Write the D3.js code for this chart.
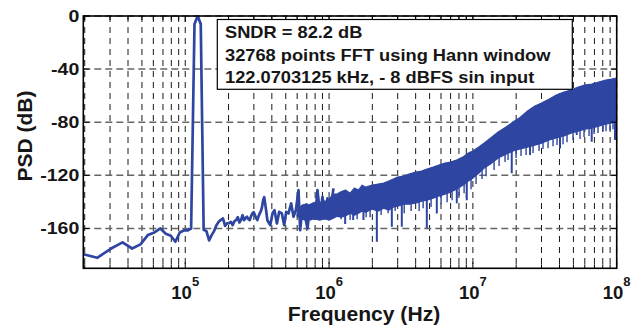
<!DOCTYPE html>
<html><head><meta charset="utf-8">
<script src="https://cdn.jsdelivr.net/npm/d3@7"></script>
<style>
body{margin:0;background:#fff}
svg{display:block}
text{font-family:"Liberation Sans",Arial,Helvetica,sans-serif;font-weight:bold;fill:#161616}
</style>
</head><body>
<svg id="c" width="642" height="326"></svg>
<script>
// ---- data ----
// trace points (kHz) of the low-frequency part, the tone and the start of the noise rise
const lineFreqKHz = [18.31,24.41,30.52,36.62,42.72,48.83,54.93,61.04,67.14,73.24,79.35,85.45,91.55,97.66,103.76,109.86,115.97,122.07,128.17,134.28,140.38,146.48,152.59,158.69,164.79,170.90,177.00,183.11,189.21,195.31,201.42,207.52,213.62,219.73,225.83,231.93,238.04,244.14,250.24,256.35,262.45,268.55,274.66,280.76,286.87,292.97,299.07,305.18,311.28,317.38,323.49,329.59,335.69,341.80,347.90,354.00,360.11,366.21,372.31,378.42,389.7,404.3,417.4,433.8,450.0,469.9,487.5,503.4,522.3,545.3,565.7,587.8,612.9,629.8,653.4,682.2,707.8,739.1,766.6,800.5,830.5,867.1,899.6,939.4,974.6,1017.6,1073.0];
const lineDb = [-178.6,-182.1,-175.1,-170.5,-175.1,-172.0,-165.0,-163.0,-160.0,-164.0,-165.5,-170.0,-163.0,-161.5,-161.5,-160.0,-6.0,0,-6.0,-161.0,-162.0,-169.0,-165.0,-162.0,-157.5,-155.0,-153.5,-152.5,-158.0,-156.2,-156.0,-155.0,-157.5,-154.5,-153.7,-151.5,-155.5,-153.7,-150.0,-153.7,-152.2,-151.2,-153.0,-153.7,-150.7,-148.7,-147.7,-150.0,-152.2,-153.7,-150.7,-148.7,-147.0,-144.0,-138.7,-136.4,-141.7,-147.7,-153.7,-155.2,-157.5,-148.7,-146.2,-156.2,-147.5,-148.7,-157.5,-147.5,-148.7,-141.1,-151.2,-146.2,-131.1,-161.3,-143.7,-151.2,-160.0,-142.4,-144.9,-151.2,-131.1,-150.0,-136.2,-151.2,-137.4,-147.5,-129.8];

// dense noise region: upper / lower edge of the solid part of the trace
const bandFreqHz = [600e3,650e3,690e3,730e3,770e3,810e3,860e3,910e3,960e3,1.0e6,1.07e6,1.14e6,1.2e6,1.3e6,1.4e6,1.5e6,1.6e6,1.7e6,1.8e6,2.0e6,2.2e6,2.4e6,2.6e6,2.8e6,3.0e6,3.3e6,3.6e6,4.0e6,4.4e6,4.8e6,5.3e6,5.8e6,6.4e6,7.0e6,7.7e6,8.5e6,9.3e6,10e6,11e6,12e6,13.5e6,15e6,17e6,19e6,21e6,24e6,27e6,30e6,34e6,38e6,43e6,48e6,54e6,60e6,67e6,75e6,84e6,92e6,100e6];
const bandUpperDb = [-146.2,-142.4,-141.7,-142.4,-140.9,-140.2,-140.9,-139.4,-139.4,-137.9,-134.1,-134.1,-132.6,-131.1,-133.4,-129.6,-131.1,-127.4,-128.9,-127.4,-126.6,-125.8,-124.3,-122.8,-121.3,-120.6,-119.1,-117.6,-116.8,-115.3,-113.8,-112.3,-110.8,-110.0,-108.5,-106.3,-103.2,-101.7,-98.7,-95.7,-91.2,-87.4,-83.6,-79.9,-76.9,-71.6,-67.8,-65.6,-62.5,-59.5,-57.3,-55.8,-53.5,-52.0,-51.2,-49.7,-48.2,-47.5,-46.7];
const bandLowerDb = [-150.7,-153.0,-153.7,-153.7,-153.0,-153.0,-153.7,-153.0,-153.0,-153.7,-152.2,-150.7,-151.5,-150.7,-148.5,-150.0,-148.5,-146.9,-147.7,-145.4,-146.9,-144.7,-146.2,-143.9,-143.2,-141.7,-141.7,-140.9,-139.4,-138.7,-137.2,-135.6,-134.1,-132.6,-130.4,-127.4,-124.3,-122.1,-118.3,-114.5,-110.8,-107.0,-104.0,-101.7,-100.2,-98.7,-97.2,-95.7,-93.4,-91.9,-90.4,-88.2,-86.7,-85.2,-84.4,-82.9,-81.4,-80.6,-79.1];

// deep downward spikes
const spikeFreqHz = [1.294e6,1.471e6,1.734e6,2.149e6,2.732e6,3.205e6,4.783e6,5.613e6,7.73e6,9.07e6,18.63e6,24.97e6,40.36e6,52.72e6,67.03e6,97.3e6];
const spikeDb = [-156.7,-153.7,-153.7,-170.1,-158.8,-158.8,-160.0,-148.7,-141.1,-138.7,-118.5,-104.7,-99.7,-89.7,-94.7,-93.4];
// small teeth along the lower edge
const teethFreqHz = [1.214e6,1.401e6,1.568e6,1.810e6,1.930e6,2.302e6,2.575e6,2.880e6,3.33e6,3.72e6,4.23e6,4.51e6,5.12e6,6.01e6,6.62e6,7.17e6,8.02e6,8.69e6,9.71e6,10.52e6,11.58e6,12.35e6,14.04e6,15.21e6,16.74e6,17.56e6,19.96e6,21.62e6,23.43e6,26.21e6,28.84e6,30.74e6,33.32e6,36.09e6,38.47e6,42.35e6,45.14e6,49.70e6,55.59e6,59.27e6,64.21e6,69.55e6,74.13e6,80.31e6,84.25e6,89.82e6,94.25e6];
const teethDb = [-153.0,-153.7,-153.0,-151.5,-151.5,-149.9,-148.5,-146.9,-148.5,-146.9,-146.9,-144.7,-143.9,-141.7,-140.2,-138.7,-135.6,-133.4,-130.4,-126.6,-122.8,-120.6,-116.0,-113.0,-110.0,-108.5,-107.0,-105.5,-104.7,-103.2,-101.7,-100.2,-99.5,-98.0,-97.2,-96.5,-95.0,-93.4,-92.7,-91.2,-90.4,-88.9,-88.2,-86.7,-86.7,-85.9,-85.2];

const yTicks = [0,-40,-80,-120,-160];
const xMajorTicks = [1e5,1e6,1e7,1e8];
const xTickExponents = ["5","6","7","8"];
const legendLines = ["SNDR = 82.2 dB","32768 points FFT using Hann window","122.0703125 kHz, - 8 dBFS sin input"];
const xLabel = "Frequency (Hz)";
const yLabel = "PSD (dB)";

// ---- layout ----
const L = 83.3, R = 616.7, T = 16, B = 268.3;
const blue = "#2e46a2";
const svg = d3.select("#c");
const x = d3.scaleLog().domain([19550, 1e8]).range([L, R]);
const y = d3.scaleLinear().domain([-190, 0]).range([B, T]);

svg.append("defs").append("clipPath").attr("id","pc")
  .append("rect").attr("x",L).attr("y",T).attr("width",R-L).attr("height",B-T);

// grid
const minor = [];
for (let d = 4; d <= 7; d++) for (let k = 1; k <= 9; k++) {
  const v = k * Math.pow(10, d);
  if (v >= 19550 && v <= 1e8) minor.push(v);
}
minor.push(1e8);
const g = svg.append("g");
g.selectAll("line.vg").data(minor).join("line")
  .attr("x1",d=>x(d)).attr("x2",d=>x(d)).attr("y1",T).attr("y2",B)
  .attr("stroke","#1a1a1a").attr("stroke-width",1).attr("stroke-dasharray","6,5");
g.selectAll("line.hg").data(yTicks).join("line")
  .attr("x1",L).attr("x2",R).attr("y1",d=>y(d)).attr("y2",d=>y(d))
  .attr("stroke","#666").attr("stroke-width",1.5).attr("stroke-dasharray","7,4");

// data
const plot = svg.append("g").attr("clip-path","url(#pc)");
const band = bandFreqHz.map((f,i)=>({f, hi:bandUpperDb[i], lo:bandLowerDb[i]}));
plot.append("path").datum(band)
  .attr("d", d3.area().x(d=>x(d.f)).y0(d=>y(d.lo)).y1(d=>y(d.hi)))
  .attr("fill",blue).attr("stroke",blue).attr("stroke-width",1.2).attr("stroke-linejoin","round");

const lowerAt = d3.scaleLog().domain(bandFreqHz).range(bandLowerDb);
plot.selectAll("line.sp").data(spikeFreqHz.map((f,i)=>({f, v:spikeDb[i]}))).join("line")
  .attr("x1",d=>x(d.f)).attr("x2",d=>x(d.f))
  .attr("y1",d=>y(lowerAt(d.f))-2).attr("y2",d=>y(d.v))
  .attr("stroke",blue).attr("stroke-width",2);
plot.selectAll("line.th").data(teethFreqHz.map((f,i)=>({f, v:teethDb[i]}))).join("line")
  .attr("x1",d=>x(d.f)).attr("x2",d=>x(d.f))
  .attr("y1",d=>y(lowerAt(d.f))-2).attr("y2",d=>y(d.v))
  .attr("stroke",blue).attr("stroke-width",1.4);

const pts = lineFreqKHz.map((f,i)=>({f:f*1000, v:lineDb[i]}));
plot.append("path").datum(pts)
  .attr("d", d3.line().x(d=>x(d.f)).y(d=>y(d.v)))
  .attr("fill","none").attr("stroke",blue).attr("stroke-width",2.7).attr("stroke-linejoin","round");

// frame and ticks
svg.append("rect").attr("x",L).attr("y",T).attr("width",R-L).attr("height",B-T)
  .attr("fill","none").attr("stroke","#000").attr("stroke-width",1.6);
const tk = svg.append("g").attr("stroke","#000").attr("stroke-width",1);
tk.selectAll("line.bt").data(minor).join("line")
  .attr("x1",d=>x(d)).attr("x2",d=>x(d)).attr("y1",B).attr("y2",d=>xMajorTicks.includes(d)?B-6:B-4);
tk.selectAll("line.tt").data(minor).join("line")
  .attr("x1",d=>x(d)).attr("x2",d=>x(d)).attr("y1",T).attr("y2",d=>xMajorTicks.includes(d)?T+6:T+4);
tk.selectAll("line.lt").data(yTicks).join("line")
  .attr("x1",L).attr("x2",L+6).attr("y1",d=>y(d)).attr("y2",d=>y(d));
tk.selectAll("line.rt").data(yTicks).join("line")
  .attr("x1",R).attr("x2",R-6).attr("y1",d=>y(d)).attr("y2",d=>y(d));

// tick labels
svg.selectAll("text.yt").data(yTicks).join("text")
  .attr("transform",d=>`translate(79.3,${y(d)+5.6}) scale(1.22,1)`)
  .attr("text-anchor","end").attr("font-size",16).text(d=>d);
const xt = svg.selectAll("text.xt").data(xMajorTicks).join("text")
  .attr("x",d=>x(d)).attr("y",299).attr("text-anchor","middle").attr("font-size",18.5);
xt.append("tspan").text("10");
xt.append("tspan").attr("dy",-13).attr("font-size",13).text((d,i)=>xTickExponents[i]);

// axis titles
svg.append("text").attr("transform","translate(364,321) scale(1.03,1)")
  .attr("text-anchor","middle").attr("font-size",20.5).text(xLabel);
svg.append("text").attr("transform","translate(32,136) rotate(-90)")
  .attr("text-anchor","middle").attr("font-size",21).text(yLabel);

// annotation box
svg.append("rect").attr("x",217.3).attr("y",19.5).attr("width",355).attr("height",69.8)
  .attr("fill","#fff").attr("stroke","#000").attr("stroke-width",1.2);
svg.selectAll("text.lg").data(legendLines).join("text")
  .attr("transform",(d,i)=>`translate(225,${[38.3,61,82.7][i]}) scale(1.12,1)`)
  .attr("font-size",16.3).text(d=>d);
</script>
</body></html>
